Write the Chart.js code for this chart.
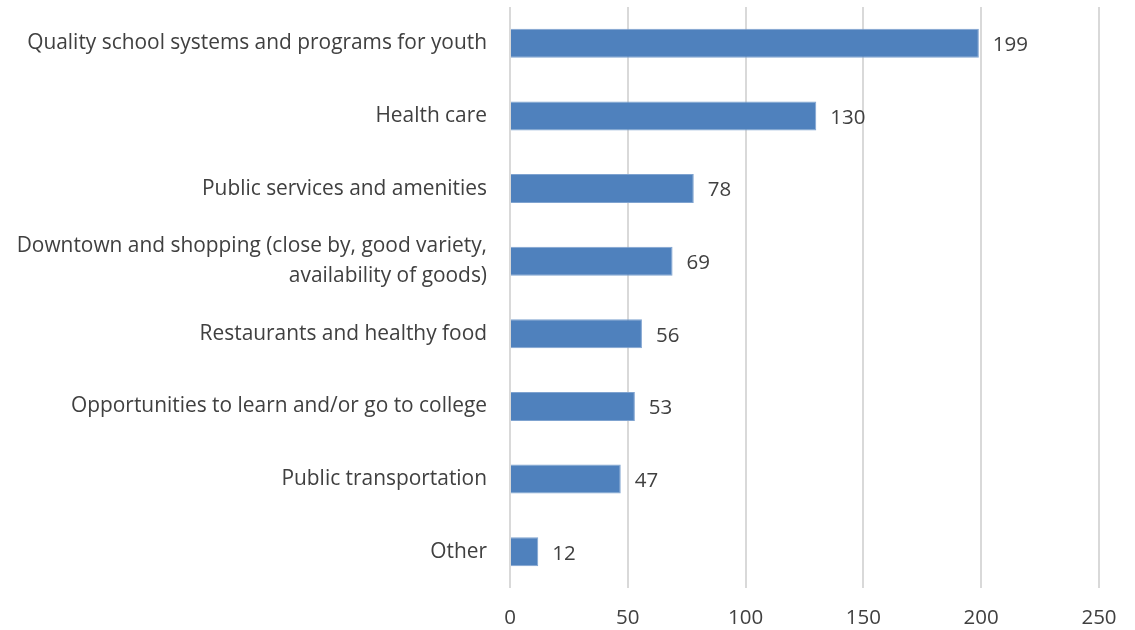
<!DOCTYPE html>
<html lang="en">
<head>
  <meta charset="UTF-8">
  <title>Community priorities</title>
  <script src="https://cdn.jsdelivr.net/npm/chart.js"></script>
  <style>
    html, body { margin: 0; padding: 0; background: #fff; }
    #wrap { width: 1135px; height: 630px; }
  </style>
</head>
<body>
  <div id="wrap"><canvas id="chart" width="1135" height="630"></canvas></div>
  <script>
    const categories = [
      'Quality school systems and programs for youth',
      'Health care',
      'Public services and amenities',
      ['Downtown and shopping (close by, good variety,', 'availability of goods)'],
      'Restaurants and healthy food',
      'Opportunities to learn and/or go to college',
      'Public transportation',
      'Other'
    ];
    const counts = [199, 130, 78, 69, 56, 53, 47, 12];
    const xTicks = [0, 50, 100, 150, 200, 250];

    const textColor = '#404040';
    const fontFamily = '"Open Sans", "Liberation Sans", sans-serif';

    // draws the count just past the end of each bar
    const valueLabels = {
      id: 'valueLabels',
      afterDatasetsDraw(chart) {
        const ctx = chart.ctx;
        const meta = chart.getDatasetMeta(0);
        ctx.save();
        ctx.font = '20.5px ' + fontFamily;
        ctx.fillStyle = textColor;
        ctx.textAlign = 'left';
        ctx.textBaseline = 'middle';
        meta.data.forEach((bar, i) => {
          ctx.fillText(String(counts[i]), bar.x + 14, bar.y + 2);
        });
        ctx.restore();
      }
    };

    new Chart(document.getElementById('chart'), {
      type: 'bar',
      data: {
        labels: categories,
        datasets: [{
          data: counts,
          backgroundColor: '#4F81BD',
          borderColor: '#7FA3D0',
          borderWidth: 1,
          categoryPercentage: 1,
          barPercentage: 0.4
        }]
      },
      options: {
        indexAxis: 'y',
        responsive: false,
        animation: false,
        layout: { padding: { top: 7, right: 36, bottom: 0, left: 0 } },
        plugins: {
          legend: { display: false },
          tooltip: { enabled: false }
        },
        scales: {
          x: {
            min: 0,
            max: 250,
            afterBuildTicks(scale) {
              scale.ticks = xTicks.map(v => ({ value: v }));
            },
            afterFit(scale) { scale.height = 42; },
            grid: { color: '#D9D9D9', lineWidth: 2, drawTicks: false },
            border: { display: false },
            ticks: {
              color: textColor,
              font: { family: fontFamily, size: 20.5 },
              padding: 18
            }
          },
          y: {
            afterFit(scale) {
              scale.width = 510;
              scale.paddingTop = 0;
              scale.paddingBottom = 0;
            },
            grid: { display: false, drawTicks: false },
            border: { display: false },
            ticks: {
              color: textColor,
              font: { family: fontFamily, size: 20.9, lineHeight: 1.45 },
              padding: 23
            }
          }
        }
      },
      plugins: [valueLabels]
    });
  </script>
</body>
</html>
